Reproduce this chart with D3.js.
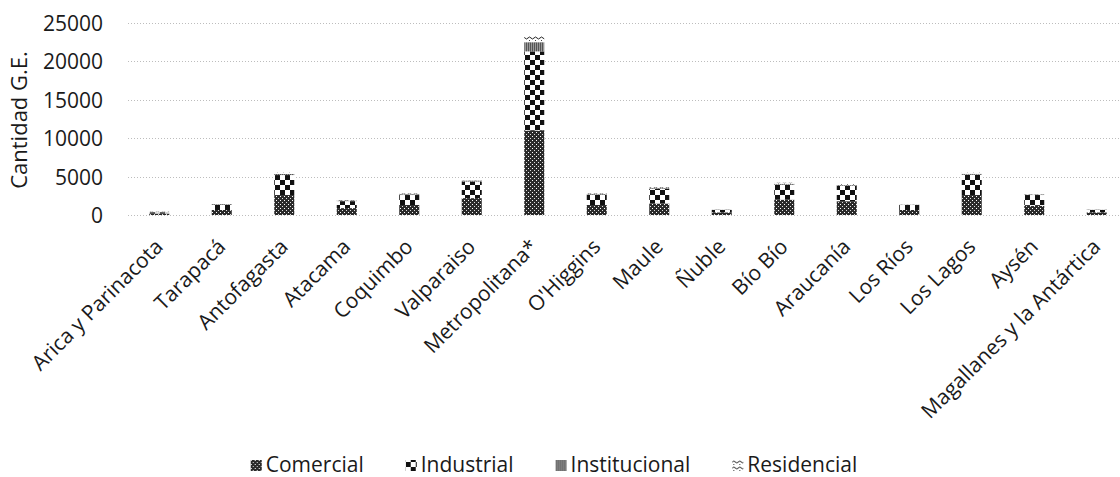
<!DOCTYPE html>
<html>
<head>
<meta charset="utf-8">
<script src="https://cdn.jsdelivr.net/npm/d3@7"></script>
<style>
  html, body { margin: 0; padding: 0; background: #fff; }
  svg { display: block; }
  text { font-family: "Open Sans", sans-serif; fill: #1a1a1a; }
</style>
</head>
<body>
<svg id="chart" width="1120" height="477"></svg>
<script>
const categories = ["Arica y Parinacota", "Tarapacá", "Antofagasta", "Atacama", "Coquimbo", "Valparaiso",
  "Metropolitana*", "O'Higgins", "Maule", "Ñuble", "Bío Bío", "Araucanía", "Los Ríos", "Los Lagos",
  "Aysén", "Magallanes y la Antártica"];
const seriesNames = ["Comercial", "Industrial", "Institucional", "Residencial"];
const comercial     = [200, 650, 2600, 900, 1300, 2200, 11000, 1300, 1500, 350, 2000, 1800, 650, 2600, 1200, 350];
const industrial    = [150, 700, 2600, 900, 1300, 2150, 10300, 1350, 1900, 330, 1950, 2000, 650, 2650, 1400, 330];
const institucional = [30, 80, 150, 80, 100, 150, 1200, 80, 100, 30, 120, 100, 50, 120, 50, 30];
const residencial   = [50, 70, 150, 70, 100, 150, 900, 70, 100, 30, 130, 100, 50, 130, 50, 30];
const yTicks = [0, 5000, 10000, 15000, 20000, 25000];
const yTitle = "Cantidad G.E.";

const seriesValues = [comercial, industrial, institucional, residencial];
const rows = categories.map((c, i) => {
  const r = { cat: c };
  seriesNames.forEach((s, k) => r[s] = seriesValues[k][i]);
  return r;
});

const svg = d3.select("#chart");
const defs = svg.append("defs");

// Patterns
const pC = defs.append("pattern").attr("id", "pat0").attr("patternUnits", "userSpaceOnUse")
  .attr("width", 4).attr("height", 4);
pC.append("rect").attr("width", 4).attr("height", 4).attr("fill", "#2a2a2a");
pC.append("rect").attr("x", 0).attr("y", 0).attr("width", 1).attr("height", 1).attr("fill", "#fff");
pC.append("rect").attr("x", 2).attr("y", 2).attr("width", 1).attr("height", 1).attr("fill", "#ddd");

const pI = defs.append("pattern").attr("id", "pat1").attr("patternUnits", "userSpaceOnUse")
  .attr("width", 10).attr("height", 10);
pI.append("rect").attr("width", 10).attr("height", 10).attr("fill", "#fff");
pI.append("rect").attr("x", 0).attr("y", 0).attr("width", 5).attr("height", 5).attr("fill", "#111");
pI.append("rect").attr("x", 5).attr("y", 5).attr("width", 5).attr("height", 5).attr("fill", "#111");

const pN = defs.append("pattern").attr("id", "pat2").attr("patternUnits", "userSpaceOnUse")
  .attr("width", 2).attr("height", 2);
pN.append("rect").attr("width", 2).attr("height", 2).attr("fill", "#555");
pN.append("rect").attr("x", 1).attr("y", 0).attr("width", 1).attr("height", 2).attr("fill", "#999");

const pR = defs.append("pattern").attr("id", "pat3").attr("patternUnits", "userSpaceOnUse")
  .attr("width", 6).attr("height", 6);
pR.append("rect").attr("width", 6).attr("height", 6).attr("fill", "#fff");
pR.append("path").attr("d", "M0,2 Q1.5,0 3,2 T6,2").attr("stroke", "#222").attr("stroke-width", 1).attr("fill", "none");
pR.append("rect").attr("x", 1).attr("y", 4).attr("width", 1).attr("height", 1).attr("fill", "#444");

const fills = ["url(#pat0)", "url(#pat1)", "url(#pat2)", "url(#pat3)"];

// Scales
const x = d3.scaleBand().domain(categories).range([128, 1128]).paddingInner(0.68).paddingOuter(0.34);
const y = d3.scaleLinear().domain([0, 25000]).range([215, 23]);

// Gridlines
svg.append("g").selectAll("line").data(yTicks).join("line")
  .attr("x1", 128).attr("x2", 1120)
  .attr("y1", d => Math.round(y(d)) + 0.5).attr("y2", d => Math.round(y(d)) + 0.5)
  .attr("stroke", "#bdbdbd").attr("stroke-width", 1).attr("stroke-dasharray", "1,2");

// Y axis labels
const yAxis = d3.axisLeft(y).tickValues(yTicks).tickFormat(d3.format("d")).tickSize(0).tickPadding(0);
const gy = svg.append("g").attr("transform", "translate(103,0)").call(yAxis);
gy.select(".domain").remove();
gy.selectAll("text").attr("font-size", 21).attr("font-family", "Open Sans").attr("fill", "#1a1a1a").attr("dy", "0.36em");

// Y title
svg.append("text").attr("transform", "translate(27,120) rotate(-90)")
  .attr("text-anchor", "middle").attr("font-size", 22).text(yTitle);

// Stacked bars
const stack = d3.stack().keys(seriesNames)(rows);
svg.append("g").selectAll("g").data(stack).join("g")
  .attr("fill", (d, i) => fills[i])
  .selectAll("rect").data(d => d).join("rect")
  .attr("x", d => x(d.data.cat))
  .attr("width", x.bandwidth())
  .attr("y", d => y(d[1]))
  .attr("height", d => y(d[0]) - y(d[1]));

// X labels
const xAxis = d3.axisBottom(x).tickSize(0).tickPadding(0);
const gx = svg.append("g").attr("transform", "translate(0,215)").call(xAxis);
gx.select(".domain").remove();
gx.selectAll("text")
  .attr("font-size", 21).attr("font-family", "Open Sans").attr("fill", "#1a1a1a")
  .attr("text-anchor", "end").attr("dy", null).attr("y", 0)
  .attr("transform", "translate(5,33) rotate(-45)");

// Legend
const legend = svg.append("g");
let lx = 0;
const gap = 42;
seriesNames.forEach((s, i) => {
  const g = legend.append("g").attr("transform", `translate(${lx},0)`);
  g.append("rect").attr("x", 0).attr("y", -12).attr("width", 11).attr("height", 11)
    .attr("fill", fills[i]);
  const t = g.append("text").attr("x", 15).attr("y", 0).attr("font-size", 21).text(s);
  const w = t.node().getComputedTextLength();
  lx += 15 + w + gap;
});
const total = lx - gap;
legend.attr("transform", `translate(${554 - total / 2},472)`);
</script>
</body>
</html>
